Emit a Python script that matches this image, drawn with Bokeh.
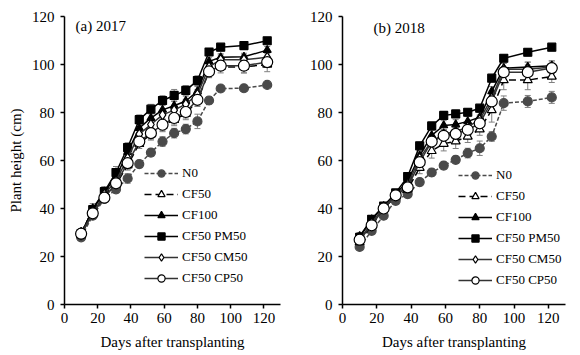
from bokeh.plotting import figure
from bokeh.models import (Range1d, Legend, LegendItem, Whisker, TeeHead,
                          ColumnDataSource, Label, FixedTicker)
from bokeh.layouts import row
from bokeh.embed import file_html
from bokeh.resources import INLINE

# ---------------- data ----------------
days = [10, 17, 24, 31, 38, 45, 52, 59, 66, 73, 80, 87, 94, 108, 122]
series_names = ["N0", "CF50", "CF100", "CF50 PM50", "CF50 CM50", "CF50 CP50"]

# 2017
n0_2017 = [28, 37, 44, 48, 52.5, 58.5, 63.3, 67.9, 71.4, 73.1, 76.3, 85, 90, 90.1, 91.5]
cf50_2017 = [30, 39, 45, 50, 58, 67, 71, 74.5, 77, 79.5, 85, 97, 99, 99, 100]
cf100_2017 = [29, 40, 47, 53, 63.5, 73.5, 77.7, 81.1, 82.8, 84.8, 88.8, 101.3, 103, 103.2, 106]
pm50_2017 = [29.5, 39.5, 47, 55, 65.4, 77, 81.4, 85, 87.1, 89.2, 93.3, 105.2, 107.2, 107.9, 109.9]
cm50_2017 = [29, 38, 46, 51.5, 61, 71, 75, 79, 81, 83.5, 87.5, 99, 102, 102, 103]
cp50_2017 = [29.5, 38, 44.5, 50.5, 58.9, 67.9, 71.4, 74.9, 77.7, 80.2, 85.3, 97.1, 99.5, 99.5, 101]

n0_2017_err = [1.2, 1.5, 1.5, 1.5, 2.0, 1.5, 1.5, 2.0, 2.0, 2.0, 3.0, 1.5, 1.0, 1.0, 1.0]
cf50_2017_err = [1.5, 1.5, 2.0, 1.5, 2.0, 2.0, 2.5, 2.5, 2.5, 2.5, 2.5, 2.5, 2.5, 2.5, 3.0]
cf100_2017_err = [1.5, 2.0, 2.0, 2.0, 2.0, 2.0, 2.0, 2.0, 2.0, 2.0, 2.0, 1.5, 1.5, 1.5, 1.5]
pm50_2017_err = [1.5, 1.5, 2.0, 2.5, 2.0, 2.0, 2.0, 2.0, 2.5, 2.0, 2.0, 1.5, 1.5, 1.5, 1.0]
cm50_2017_err = [1.5, 1.5, 2.0, 2.0, 2.0, 2.0, 2.0, 2.0, 2.0, 2.0, 2.0, 2.0, 2.0, 2.0, 2.0]
cp50_2017_err = [1.5, 1.5, 2.0, 2.0, 2.5, 2.0, 2.5, 2.5, 2.5, 2.5, 2.5, 2.5, 2.0, 3.0, 2.0]

# 2018
n0_2018 = [24, 30.7, 37, 43.2, 46, 51, 55, 57.9, 60.3, 63.1, 65.1, 70, 83.9, 84.6, 86.3]
cf50_2018 = [26, 33, 40, 45, 48, 57, 64, 67, 68, 70, 73, 81, 93.5, 93.5, 95]
cf100_2018 = [28.5, 35.5, 41, 46, 51.5, 62, 70.5, 74.6, 75, 76.3, 78, 88.8, 98.5, 99, 99.5]
pm50_2018 = [28, 35.5, 41, 46.5, 53.3, 66.1, 74.4, 78.8, 79.4, 80.1, 81.8, 94.3, 102.6, 105.1, 107.2]
cm50_2018 = [27, 34, 40.5, 45.5, 50, 61, 68, 71, 72, 74, 77, 86, 98, 98, 99]
cp50_2018 = [27, 33, 40, 45.5, 48.8, 59.3, 67.9, 70.3, 71.1, 72.8, 75.5, 84.6, 96.8, 96.8, 98.5]

n0_2018_err = [1.5, 1.5, 1.5, 1.5, 1.5, 1.5, 1.5, 1.5, 1.5, 2.0, 3.0, 2.0, 3.0, 2.5, 2.5]
cf50_2018_err = [1.5, 1.5, 1.5, 1.5, 1.5, 2.5, 3.0, 3.0, 3.0, 2.5, 2.5, 5.0, 4.0, 4.0, 2.5]
cf100_2018_err = [1.5, 1.5, 1.5, 1.5, 1.5, 2.0, 2.0, 2.0, 2.0, 2.0, 2.0, 2.0, 2.0, 2.0, 2.0]
pm50_2018_err = [1.5, 1.5, 1.5, 1.5, 1.5, 1.5, 1.5, 1.5, 1.5, 1.5, 1.5, 1.5, 1.5, 1.5, 1.5]
cm50_2018_err = [1.5, 1.5, 1.5, 1.5, 1.5, 2.0, 2.0, 2.0, 2.0, 2.0, 2.0, 3.0, 2.5, 3.0, 2.5]
cp50_2018_err = [1.5, 1.5, 1.5, 1.5, 1.5, 2.5, 2.5, 2.5, 2.5, 2.5, 3.0, 3.0, 2.0, 3.0, 2.0]

x_ticks = [0, 20, 40, 60, 80, 100, 120]
y_ticks = [0, 20, 40, 60, 80, 100, 120]

FONT = "Liberation Serif"

# styles: (line_color, line_dash, marker, size, fill_color, marker_line_color)
styles = [
    ("#4a4a4a", "4 2", "circle", 9, "#4a4a4a", "#4a4a4a"),
    ("#000000", "7 4", "triangle", 9, "white", "#000000"),
    ("#000000", "solid", "triangle", 8, "#000000", "#000000"),
    ("#000000", "solid", "square", 8, "#000000", "#000000"),
    ("#333333", "solid", "diamond", 10, "white", "#000000"),
    ("#333333", "solid", "circle", 11, "white", "#000000"),
]


def make_panel(title, values, errors, border_left, frame_w, border_right,
               ylabel, legend_xy, title_xy):
    p = figure(output_backend="svg", toolbar_location=None,
               x_range=Range1d(0, 130), y_range=Range1d(0, 120))
    p.frame_width = frame_w
    p.frame_height = 288
    p.min_border_left = border_left
    p.min_border_right = border_right
    p.min_border_top = 16
    p.min_border_bottom = 48
    p.outline_line_color = None
    p.background_fill_color = "white"
    p.border_fill_color = "white"
    p.xgrid.visible = False
    p.ygrid.visible = False

    for ax in (p.xaxis[0], p.yaxis[0]):
        ax.axis_line_color = "black"
        ax.axis_line_width = 1.5
        ax.major_tick_line_color = "black"
        ax.major_tick_line_width = 1.5
        ax.major_tick_out = 4
        ax.major_tick_in = 0
        ax.minor_tick_line_color = None
        ax.major_label_text_font = FONT
        ax.major_label_text_font_size = "15px"
        ax.major_label_text_color = "black"
        ax.axis_label_text_font = FONT
        ax.axis_label_text_font_size = "15px"
        ax.axis_label_text_font_style = "normal"
        ax.axis_label_text_color = "black"
    p.xaxis[0].ticker = FixedTicker(ticks=x_ticks)
    p.yaxis[0].ticker = FixedTicker(ticks=y_ticks)
    p.xaxis[0].axis_label = "Days after transplanting"
    p.xaxis[0].major_label_standoff = 4
    p.xaxis[0].axis_label_standoff = 8
    p.yaxis[0].major_label_standoff = 6
    if ylabel:
        p.yaxis[0].axis_label = ylabel
        p.yaxis[0].axis_label_standoff = 5

    items = []
    for name, vals, errs, st in zip(series_names, values, errors, styles):
        lc, dash, marker, size, fill, mlc = st
        src = ColumnDataSource(dict(
            x=days, y=vals,
            upper=[v + e for v, e in zip(vals, errs)],
            lower=[v - e for v, e in zip(vals, errs)]))
        w = Whisker(base="x", upper="upper", lower="lower", source=src,
                    line_color="#808080", line_width=1,
                    upper_head=TeeHead(size=6, line_color="#808080", line_width=1),
                    lower_head=TeeHead(size=6, line_color="#808080", line_width=1),
                    level="underlay")
        p.add_layout(w)
        lr = p.line("x", "y", source=src, line_color=lc, line_width=1.5,
                    line_dash=dash)
        sr = p.scatter("x", "y", source=src, marker=marker, size=size,
                       fill_color=fill, line_color=mlc, line_width=1.2)
        items.append(LegendItem(label=name, renderers=[lr, sr]))

    leg = Legend(items=items, location=legend_xy)
    leg.background_fill_alpha = 0
    leg.border_line_color = None
    leg.padding = 0
    leg.margin = 0
    leg.spacing = 3
    leg.glyph_width = 34
    leg.glyph_height = 18
    leg.label_standoff = 4
    leg.label_text_font = FONT
    leg.label_text_font_size = "13px"
    leg.label_text_color = "black"
    leg.label_height = 18
    p.add_layout(leg)

    p.add_layout(Label(x=title_xy[0], y=title_xy[1], x_units="screen",
                       y_units="screen", text=title, text_font=FONT,
                       text_font_size="15px", text_baseline="middle",
                       text_color="black"))
    return p


p1 = make_panel("(a) 2017",
                [n0_2017, cf50_2017, cf100_2017, pm50_2017, cm50_2017, cp50_2017],
                [n0_2017_err, cf50_2017_err, cf100_2017_err, pm50_2017_err,
                 cm50_2017_err, cp50_2017_err],
                64, 216, 8, "Plant height (cm)", (80, 17), (11, 279))
p2 = make_panel("(b) 2018",
                [n0_2018, cf50_2018, cf100_2018, pm50_2018, cm50_2018, cp50_2018],
                [n0_2018_err, cf50_2018_err, cf100_2018_err, pm50_2018_err,
                 cm50_2018_err, cp50_2018_err],
                54, 223, 7, None, (116, 15), (31, 277))

layout = row(p1, p2)
open("out.html", "w").write(file_html(layout, INLINE))
